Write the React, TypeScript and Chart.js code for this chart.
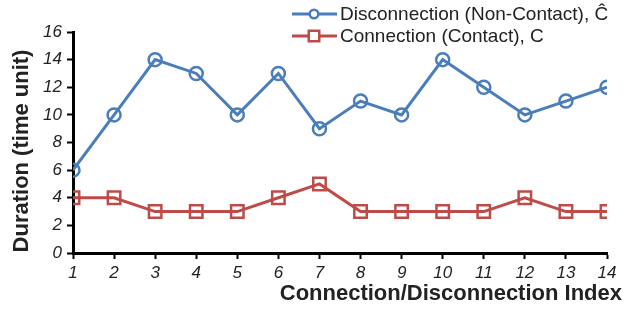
import React, { useEffect, useRef } from "react";
import { Chart, registerables } from "chart.js";
Chart.register(...registerables);

const indices = [1, 2, 3, 4, 5, 6, 7, 8, 9, 10, 11, 12, 13, 14];
const disconnection = [6, 10, 14, 13, 10, 13, 9, 11, 10, 14, 12, 10, 11, 12];
const connection = [4, 4, 3, 3, 3, 4, 5, 3, 3, 3, 3, 4, 3, 3];
const seriesLabels = ["Disconnection (Non-Contact), Ĉ", "Connection (Contact), C"];
const yTitle = "Duration (time unit)";
const xTitle = "Connection/Disconnection Index";

const BLUE = "#4a7ebb";
const RED = "#be4b48";
const FONT = "'Liberation Sans', Arial, sans-serif";

export default function App() {
  const ref = useRef<HTMLCanvasElement>(null);
  useEffect(() => {
    const ctx = ref.current!;
    const overlay = {
      id: "overlay",
      afterDraw(chart: any) {
        const c = chart.ctx;
        c.save();
        // axis titles
        c.fillStyle = "#222";
        c.font = `bold 22px ${FONT}`;
        c.textAlign = "right";
        c.textBaseline = "middle";
        c.fillText(xTitle, 622, 294);
        c.save();
        c.translate(22, 151);
        c.rotate(-Math.PI / 2);
        c.textAlign = "center";
        c.fillText(yTitle, 0, 0);
        c.restore();
        // legend
        const items = [
          { label: seriesLabels[0], color: BLUE, style: "circle", y: 14 },
          { label: seriesLabels[1], color: RED, style: "rect", y: 36 },
        ];
        for (const it of items) {
          c.strokeStyle = it.color;
          c.lineWidth = 3;
          c.beginPath();
          c.moveTo(292, it.y);
          c.lineTo(337, it.y);
          c.stroke();
          c.fillStyle = "#fff";
          c.lineWidth = 2.5;
          c.beginPath();
          if (it.style === "circle") {
            c.arc(314, it.y, 4.3, 0, Math.PI * 2);
          } else {
            c.rect(308.75, it.y - 5.25, 10.5, 10.5);
          }
          c.fill();
          c.stroke();
          c.fillStyle = "#222";
          c.font = `19px ${FONT}`;
          c.textAlign = "left";
          c.textBaseline = "middle";
          c.fillText(it.label, 340, it.y + 1);
        }
        c.restore();
      },
    };
    const chart = new Chart(ctx, {
      type: "line",
      data: {
        datasets: [
          {
            label: seriesLabels[0],
            data: indices.map((x, i) => ({ x, y: disconnection[i] })),
            borderColor: BLUE,
            backgroundColor: "#fff",
            borderWidth: 3,
            pointStyle: "circle",
            pointRadius: 6.5,
            pointBorderWidth: 2.5,
            pointBackgroundColor: "rgba(255,255,255,0)",
            pointBorderColor: BLUE,
          },
          {
            label: seriesLabels[1],
            data: indices.map((x, i) => ({ x, y: connection[i] })),
            borderColor: RED,
            backgroundColor: "#fff",
            borderWidth: 3,
            pointStyle: "rect",
            pointRadius: 8.8,
            pointBorderWidth: 2.5,
            pointBackgroundColor: "rgba(255,255,255,0)",
            pointBorderColor: RED,
          },
        ],
      },
      options: {
        animation: false,
        responsive: false,
        maintainAspectRatio: false,
        layout: { padding: { top: 32, right: 17, left: 0, bottom: 0 } },
        plugins: { legend: { display: false }, tooltip: { enabled: false } },
        scales: {
          x: {
            type: "linear",
            min: 1,
            max: 14,
            afterFit: (s: any) => {
              s.height = 58;
            },
            ticks: {
              stepSize: 1,
              padding: 4,
              color: "#222",
              font: { family: FONT, size: 17, style: "italic" },
              maxRotation: 0,
            },
            grid: {
              drawOnChartArea: false,
              drawTicks: true,
              tickLength: 6,
              tickWidth: 2,
              tickColor: "#000",
            },
            border: { display: true, color: "#000", width: 3 },
          },
          y: {
            min: 0,
            max: 16,
            afterFit: (s: any) => {
              s.width = 73;
            },
            ticks: {
              stepSize: 2,
              padding: 5,
              color: "#222",
              font: { family: FONT, size: 17, style: "italic" },
            },
            grid: {
              drawOnChartArea: false,
              drawTicks: true,
              tickLength: 6,
              tickWidth: 2,
              tickColor: "#000",
            },
            border: { display: true, color: "#000", width: 3 },
          },
        },
      },
      plugins: [overlay],
    });
    return () => chart.destroy();
  }, []);
  return (
    <div style={{ position: "absolute", left: 0, top: 0, width: 624, height: 311, background: "#fff" }}>
      <canvas ref={ref} width={624} height={311} style={{ width: 624, height: 311 }} />
    </div>
  );
}
